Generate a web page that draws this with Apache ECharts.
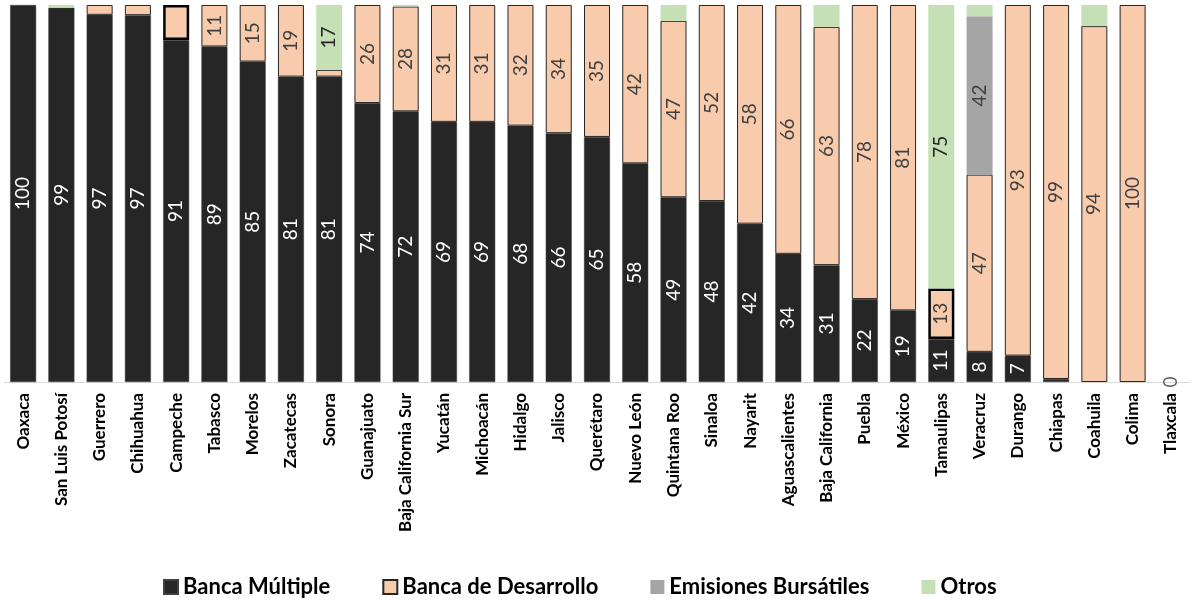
<!DOCTYPE html>
<html><head><meta charset="utf-8">
<script src="https://cdn.jsdelivr.net/npm/echarts@6/dist/echarts.min.js"></script>
<style>html,body{margin:0;padding:0;background:#fff}#c{width:1192px;height:600px}</style>
</head><body><div id="c"></div>
<script>
const categories = ["Oaxaca","San Luis Potosí","Guerrero","Chihuahua","Campeche","Tabasco","Morelos","Zacatecas","Sonora","Guanajuato","Baja California Sur","Yucatán","Michoacán","Hidalgo","Jalisco","Querétaro","Nuevo León","Quintana Roo","Sinaloa","Nayarit","Aguascalientes","Baja California","Puebla","México","Tamaulipas","Veracruz","Durango","Chiapas","Coahuila","Colima","Tlaxcala"];
const bancaMultiple   = [100, 99.3, 97.4, 97.3, 90.7, 89, 85, 81, 81, 74, 71.8, 69, 69, 68, 66, 65, 58, 49, 48, 42, 34, 31, 22, 19, 11.4, 8, 7, 0.8, null, null, 0];
const bancaDesarrollo = [null, null, 2.6, 2.7, 9.3, 11, 15, 19, 1.8, 26, 27.8, 31, 31, 32, 34, 35, 42, 46.8, 52, 58, 66, 63.2, 78, 81, 13.4, 47, 93, 99.2, 94.4, 100, null];
const emisiones       = [null, null, null, null, null, null, null, null, null, null, null, null, null, null, null, null, null, null, null, null, null, null, null, null, null, 42, null, null, null, null, null];
const otros           = [null, 0.7, null, null, null, null, null, null, 17.2, null, 0.4, null, null, null, null, null, null, 4.2, null, null, null, 5.8, null, null, 75.2, 3, null, null, 5.6, null, null];
const highlighted = ["Campeche","Tamaulipas"];

const FONT = 'Lato, "Open Sans", sans-serif';
const labelBase = {show:true, position:'inside', rotate:90, fontFamily:FONT, fontSize:19};
function fmt(min){return p => (p.value==null || p.value < min ? '' : String(Math.round(p.value)));}

// zero-valued Banca Múltiple entries are drawn as a "0" label only
const zeroLabels = bancaMultiple.map((v,i)=> v===0 ? [categories[i], v] : null).filter(Boolean);

const chart = echarts.init(document.getElementById('c'));
chart.setOption({
  animation:false,
  grid:{left:4, right:2, top:5, bottom:218, containLabel:false},
  legend:{
    top:571, left:158, itemWidth:14, itemHeight:14, itemGap:52, icon:'rect',
    textStyle:{fontFamily:FONT, fontWeight:'bold', fontSize:22, color:'#000'},
    data:['Banca Múltiple','Banca de Desarrollo','Emisiones Bursátiles','Otros']
  },
  xAxis:{
    type:'category', data:categories,
    axisLine:{lineStyle:{color:'#d9d9d9', width:1}}, axisTick:{show:false},
    axisLabel:{rotate:90, interval:0, margin:11, fontFamily:FONT, fontWeight:'bold', fontSize:17, color:'#000'}
  },
  yAxis:{type:'value', min:0, max:100, show:false, splitLine:{show:false}},
  series:[
    {name:'Banca Múltiple', type:'bar', stack:'t', barWidth:26, data:bancaMultiple.map(v=> v===0 ? null : v),
     itemStyle:{color:'#262626', borderColor:'#404040', borderWidth:0.5},
     label:Object.assign({}, labelBase, {color:'#fff', formatter:fmt(5)})},
    {name:'Banca de Desarrollo', type:'bar', stack:'t', barWidth:26,
     data:bancaDesarrollo.map((v,i)=> highlighted.includes(categories[i]) ? {value:v, itemStyle:{borderColor:'#000', borderWidth:2.5}} : v),
     itemStyle:{color:'#F8CBAD', borderColor:'#262626', borderWidth:1},
     label:Object.assign({}, labelBase, {color:'#404040', formatter:fmt(10)})},
    {name:'Emisiones Bursátiles', type:'bar', stack:'t', barWidth:26, data:emisiones,
     itemStyle:{color:'#A5A5A5'},
     label:Object.assign({}, labelBase, {color:'#404040', formatter:fmt(10)})},
    {name:'Otros', type:'bar', stack:'t', barWidth:26, data:otros,
     itemStyle:{color:'#C5E0B4'},
     label:Object.assign({}, labelBase, {color:'#262626', formatter:fmt(10)})},
    {name:'cero', type:'scatter', data:zeroLabels, symbolSize:1, itemStyle:{color:'rgba(0,0,0,0)'},
     silent:true, z:5,
     label:{show:true, position:'inside', rotate:90, fontFamily:FONT, fontSize:19, color:'#404040',
            formatter:p=>String(p.value[1])}}
  ]
});
</script></body></html>
